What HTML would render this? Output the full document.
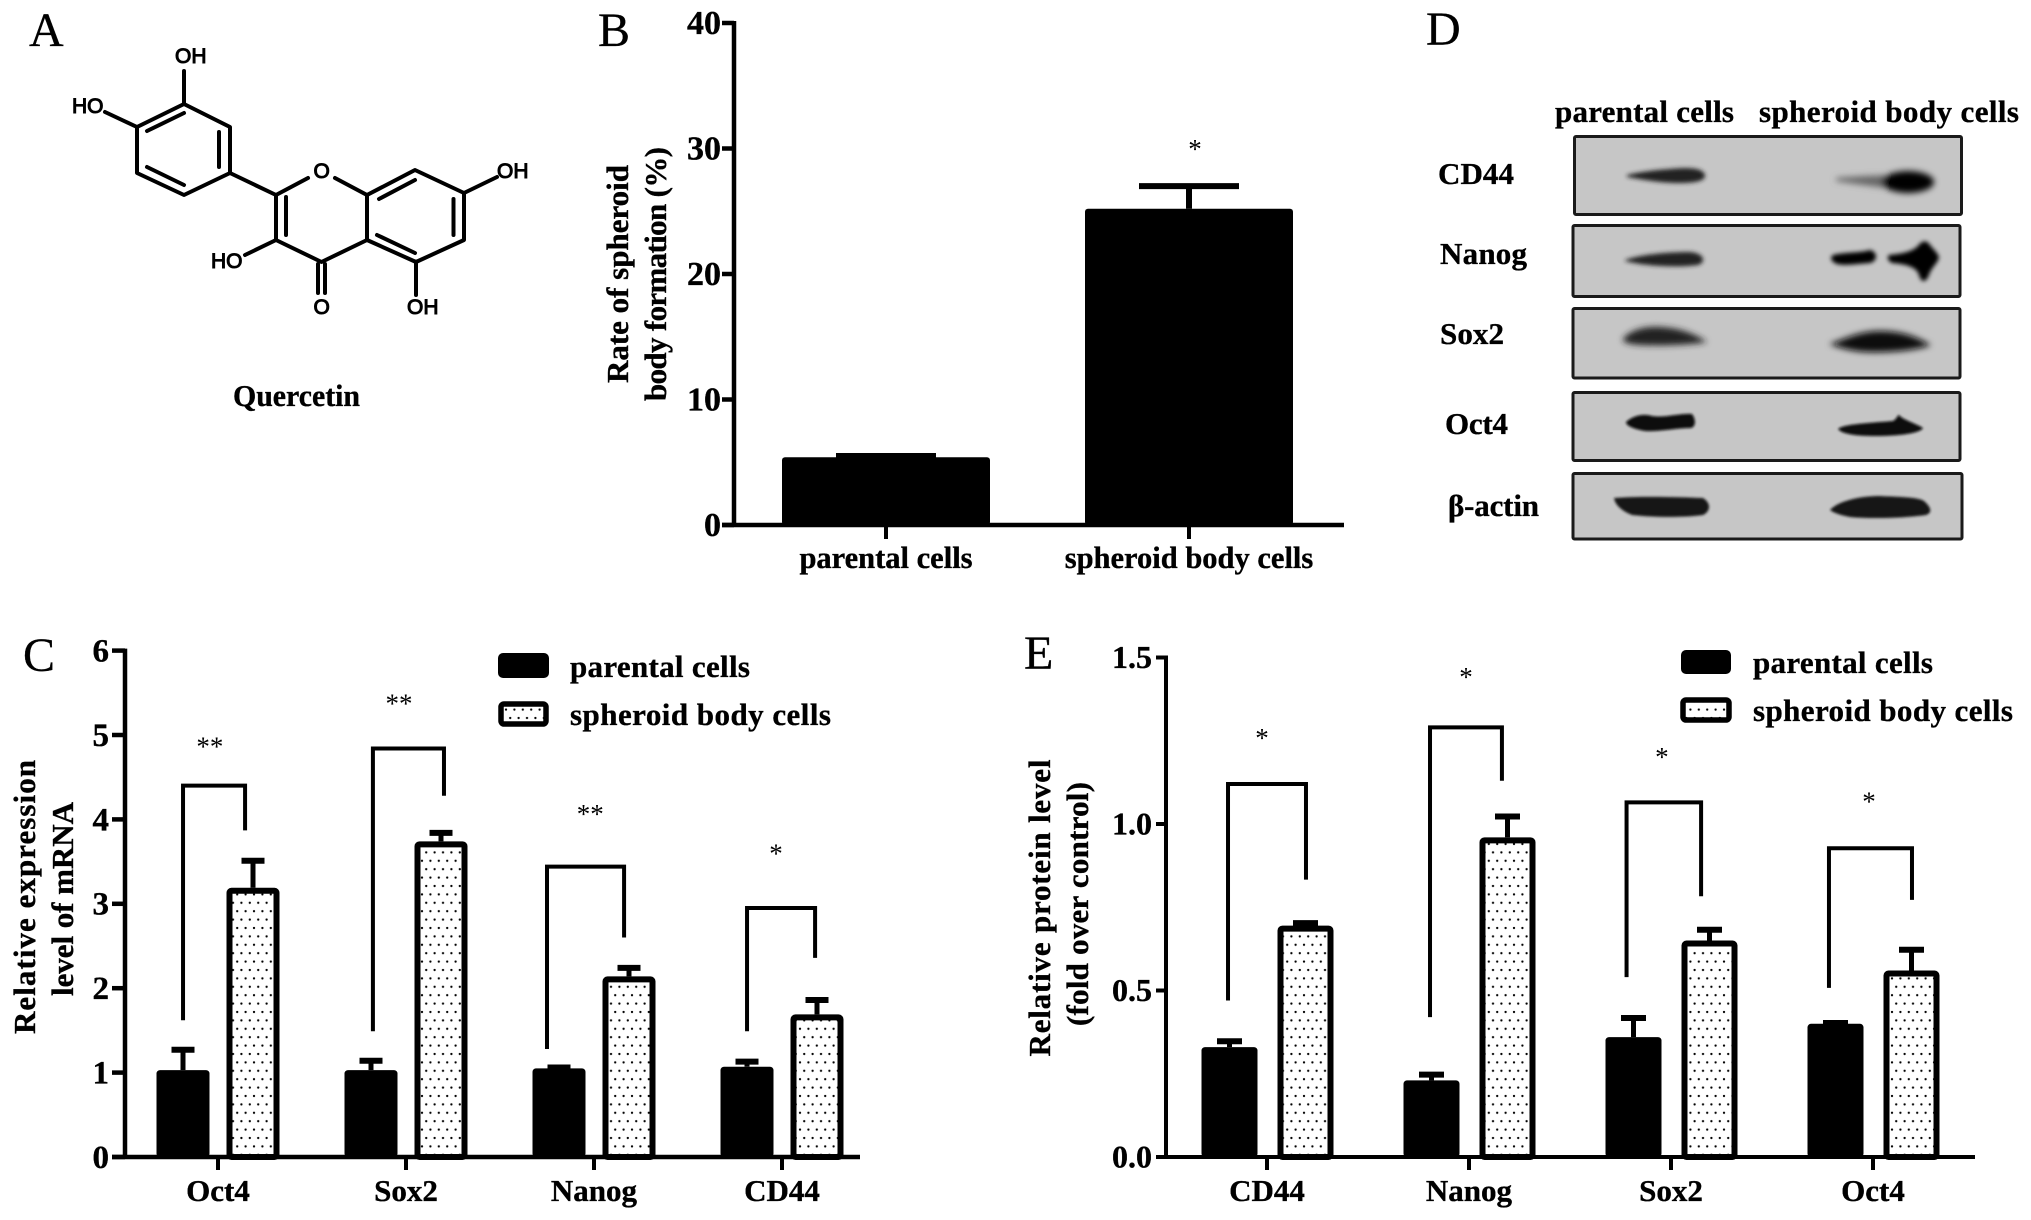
<!DOCTYPE html>
<html lang="en">
<head>
<meta charset="utf-8">
<title>Quercetin spheroid body figure</title>
<style>
html,body{margin:0;padding:0;background:#fff;}
svg{display:block;}
text{font-family:"Liberation Serif","DejaVu Serif",serif;fill:#000;}
.lab{font-weight:bold;font-size:31px;stroke:#000;stroke-width:.35px;}
.let{font-size:48px;stroke:#000;stroke-width:.3px;}
.chem{font-family:"Liberation Sans",sans-serif;font-size:21px;stroke:#000;stroke-width:1px;}
.bond{stroke:#000;stroke-width:4;fill:none;stroke-linecap:round;stroke-linejoin:round;}
.blot{fill:#c6c6c6;stroke:#1a1a1a;stroke-width:3;}
</style>
</head>
<body>
<svg id="fig" xmlns="http://www.w3.org/2000/svg" width="2031" height="1220" viewBox="0 0 2031 1220">
<defs>
<pattern id="dots" patternUnits="userSpaceOnUse" width="8.4" height="16.8">
<circle cx="2" cy="4" r="1.15" fill="#000"/>
<circle cx="6.2" cy="12.4" r="1.15" fill="#000"/>
</pattern>
<filter id="bl1" x="-20%" y="-40%" width="140%" height="180%"><feGaussianBlur stdDeviation="1.3"/></filter>
<filter id="bl2" x="-20%" y="-40%" width="140%" height="180%"><feGaussianBlur stdDeviation="2.2"/></filter>
<filter id="bl3" x="-20%" y="-60%" width="140%" height="220%"><feGaussianBlur stdDeviation="3.2"/></filter>
</defs>
<rect width="2031" height="1220" fill="#fff"/>

<text class="let" x="29" y="46">A</text>
<text class="let" x="598" y="46">B</text>
<text class="let" x="23" y="671">C</text>
<text class="let" x="1426" y="45">D</text>
<text class="let" x="1024" y="669">E</text>

<g>
<path class="bond" d="M184 104L230 127L230 173L184 195L137 173L137 127Z"/>
<path class="bond" d="M147 131L184 113M219 132L219 167M147 167L184 185M184 104L184 71M137 127L105 112M230 173L276 195"/>
<path class="bond" d="M308 178L276 195L276 240L321.5 262L367 240L367 195L335 178"/>
<path class="bond" d="M286 197L286 235M367 195L415 170L464 193L464 240L416 262L367 240"/>
<path class="bond" d="M379 199L415 180M453.5 199L453.5 235M377 235L415 253M464 193L497 177M416 262L416 295M318 264L318 293M325 264L325 293M276 240L245 255"/>
<text class="chem" x="175" y="63">OH</text>
<text class="chem" x="72" y="113">HO</text>
<text class="chem" x="313.500" y="178">O</text>
<text class="chem" x="497" y="178">OH</text>
<text class="chem" x="211" y="268">HO</text>
<text class="chem" x="313.500" y="314">O</text>
<text class="chem" x="407" y="314">OH</text>
</g>
<text class="lab" x="233" y="406" textLength="127" lengthAdjust="spacingAndGlyphs">Quercetin</text>

<g id="chartB"></g>
<text class="lab" transform="translate(628,274) rotate(-90)" text-anchor="middle" textLength="218" lengthAdjust="spacing">Rate of spheroid</text>
<text class="lab" transform="translate(666,274) rotate(-90)" text-anchor="middle" textLength="254" lengthAdjust="spacing">body formation (%)</text>

<g id="chartC"></g>
<text class="lab" transform="translate(35,897) rotate(-90)" text-anchor="middle" textLength="274" lengthAdjust="spacing">Relative expression</text>
<text class="lab" transform="translate(73,899) rotate(-90)" text-anchor="middle" textLength="194" lengthAdjust="spacing">level of mRNA</text>

<g id="chartE"></g>
<text class="lab" transform="translate(1050,908) rotate(-90)" text-anchor="middle" textLength="297" lengthAdjust="spacing">Relative protein level</text>
<text class="lab" transform="translate(1088,904) rotate(-90)" text-anchor="middle" textLength="244" lengthAdjust="spacing">(fold over control)</text>

<g>
<rect x="499" y="654" width="49" height="23" rx="4" fill="#000" stroke="#000" stroke-width="2"/>
<text class="lab" x="570" y="677" textLength="180" lengthAdjust="spacing">parental cells</text>
<rect x="501" y="704" width="45" height="20" rx="3" fill="url(#dots)" stroke="#000" stroke-width="5.5"/>
<text class="lab" x="570" y="725" textLength="261" lengthAdjust="spacing">spheroid body cells</text>
</g>
<g>
<rect x="1682" y="651" width="48" height="22" rx="4" fill="#000" stroke="#000" stroke-width="2"/>
<text class="lab" x="1753" y="673" textLength="180" lengthAdjust="spacing">parental cells</text>
<rect x="1683" y="700" width="46" height="20" rx="3" fill="url(#dots)" stroke="#000" stroke-width="5.5"/>
<text class="lab" x="1753" y="721" textLength="260" lengthAdjust="spacing">spheroid body cells</text>
</g>

<g>
<text class="lab" x="1555" y="122" textLength="179" lengthAdjust="spacing">parental cells</text>
<text class="lab" x="1759" y="122" textLength="260" lengthAdjust="spacing">spheroid body cells</text>

<text class="lab" x="1438" y="184" textLength="76" lengthAdjust="spacing">CD44</text>
<text class="lab" x="1440" y="264" textLength="87" lengthAdjust="spacing">Nanog</text>
<text class="lab" x="1440" y="344" textLength="64" lengthAdjust="spacing">Sox2</text>
<text class="lab" x="1445" y="434" textLength="63" lengthAdjust="spacing">Oct4</text>
<text class="lab" x="1448" y="516" textLength="91" lengthAdjust="spacing">β-actin</text>

<rect class="blot" x="1574.500" y="136.500" width="387" height="78" rx="1.500"/>
<rect class="blot" x="1573" y="225.500" width="387" height="71" rx="1.500"/>
<rect class="blot" x="1573" y="308.500" width="387" height="69.500" rx="1.500"/>
<rect class="blot" x="1573" y="392.500" width="387" height="68" rx="1.500"/>
<rect class="blot" x="1573" y="473.500" width="389" height="65.500" rx="1.500"/>

<g filter="url(#bl2)">
<path d="M1627 175C1640 172 1655 170 1670 169C1690 167 1703 168 1705 175C1706 181 1695 183 1680 183C1660 183 1645 180 1627 177Z" fill="#222"/>
<path d="M1625 260C1640 255 1665 252 1690 252C1704 253 1707 262 1698 265C1675 268 1645 266 1625 261Z" fill="#222"/>
<path d="M1833 255C1845 252 1860 253 1870 250C1878 252 1878 261 1870 263C1855 264 1845 266 1837 264C1830 261 1830 257 1833 255Z" fill="#000"/>
<path d="M1889 255C1900 254 1912 252 1918 246C1922 240 1927 240 1930 245C1934 250 1939 254 1939 258C1937 264 1931 268 1929 275C1926 283 1921 283 1919 275C1917 267 1905 264 1892 263C1887 260 1887 257 1889 255Z" fill="#000"/>
</g>
<g filter="url(#bl3)">
<path d="M1836 178C1860 176 1885 175 1905 175L1905 190C1885 188 1855 184 1836 181Z" fill="#666"/>
<ellipse cx="1908" cy="182" rx="26" ry="11" fill="#000"/>
<path d="M1623 339C1630 330 1645 326 1660 327C1680 328 1695 334 1707 342C1690 345 1660 346 1640 345C1628 344 1622 342 1623 339Z" fill="#222"/>
<path d="M1829 344C1843 340 1858 331 1880 331C1905 331 1918 338 1931 345C1915 351 1885 353 1865 352C1850 351 1838 347 1829 344Z" fill="#0a0a0a"/>
</g>
<g filter="url(#bl1)" fill="#0a0a0a">
<path d="M1626 422C1632 416 1643 413 1652 416C1665 418 1680 413 1692 414C1696 419 1696 427 1691 428C1675 428 1660 432 1645 431C1634 429 1626 426 1626 422Z"/>
<path d="M1838 429C1843 424 1870 423 1893 421C1897 419 1898 414 1899 415C1903 420 1915 423 1923 428C1921 433 1900 436 1875 436C1855 436 1842 434 1838 429Z"/>
<path d="M1614 498C1640 496 1680 497 1703 498C1711 503 1711 511 1703 515C1680 518 1650 517 1632 515C1622 511 1615 505 1614 498Z" fill="#151515"/>
<path d="M1830 510C1838 501 1860 496 1880 496C1900 497 1918 497 1924 501C1932 508 1932 513 1926 515C1905 518 1870 519 1850 517C1840 515 1834 513 1830 510Z" fill="#151515"/>
</g>
</g>

<script>
// Panel B data
const categoriesB = ["parental cells", "spheroid body cells"];
const meanB = [5.4, 25.2];
const errTopB = [5.7, 27.2];
const ticksB = [0, 10, 20, 30, 40];
const starLevelB = [null, 30.2];

// Panel C data
const categoriesC = ["Oct4", "Sox2", "Nanog", "CD44"];
const parentalC = [1.03, 1.03, 1.05, 1.07];
const parentalErrTopC = [1.3, 1.17, 1.09, 1.16];
const spheroidC = [3.19, 3.74, 2.14, 1.69];
const spheroidErrTopC = [3.54, 3.87, 2.27, 1.89];
const ticksC = [0, 1, 2, 3, 4, 5, 6];
const bracketTopC = [4.4, 4.84, 3.44, 2.95];
const bracketLeftEndC = [1.62, 1.49, 1.28, 1.49];
const bracketRightEndC = [3.87, 4.28, 2.6, 2.36];
const bracketLeftCatC = [-0.186, -0.176, -0.25, -0.186];
const bracketRightCatC = [0.144, 0.202, 0.16, 0.176];
const starLabelC = ["**", "**", "**", "*"];
const starLevelC = [4.9, 5.41, 4.1, 3.63];
const starCatC = [-0.043, -0.037, -0.02, -0.032];

// Panel E data
const categoriesE = ["CD44", "Nanog", "Sox2", "Oct4"];
const parentalE = [0.33, 0.23, 0.36, 0.4];
const parentalErrTopE = [0.355, 0.255, 0.425, 0.41];
const spheroidE = [0.695, 0.96, 0.65, 0.56];
const spheroidErrTopE = [0.71, 1.03, 0.69, 0.63];
const ticksE = ["0.0", "0.5", "1.0", "1.5"];
const bracketTopE = [1.12, 1.29, 1.065, 0.927];
const bracketLeftEndE = [0.47, 0.42, 0.54, 0.508];
const bracketRightEndE = [0.833, 1.13, 0.783, 0.772];
const bracketLeftCatE = [-0.193, -0.193, -0.22, -0.218];
const bracketRightCatE = [0.193, 0.163, 0.149, 0.193];
const starLabelE = ["*", "*", "*", "*"];
const starLevelE = [1.267, 1.45, 1.21, 1.076];
const starCatE = [-0.025, -0.015, -0.045, -0.02];

const NS = "http://www.w3.org/2000/svg";
function mk(parent, tag, attrs, name) {
  const el = document.createElementNS(NS, tag);
  for (const k in attrs) { el.setAttribute(k, attrs[k]); }
  
  
  parent.appendChild(el);
  return el;
}
function line(g, x1, y1, x2, y2, w, name) {
  return mk(g, "line", {x1: x1, y1: y1, x2: x2, y2: y2, stroke: "#000", "stroke-width": w}, name);
}
function label(g, x, y, str, size, anchor, bold, name, spacing) {
  const t = mk(g, "text", {x: x, y: y, "font-size": size, "text-anchor": anchor, "font-weight": bold ? "bold" : "normal", "letter-spacing": spacing || 0, stroke: "#000", "stroke-width": bold ? 0.35 : 0}, name);
  t.textContent = str;
  return t;
}
function drawAxes(g, o, ticks, cats, xOf, yOf, key) {
  line(g, o.axisX, yOf(+ticks[ticks.length - 1]) - 2, o.axisX, o.y0 + 2, o.axisW, "y-axis-" + key);
  line(g, o.tickL, o.y0, o.xEnd, o.y0, o.axisW, "x-axis-" + key);
  ticks.forEach(function (t) {
    const y = yOf(+t);
    line(g, o.tickL, y, o.axisX, y, o.axisW, "y-tick-" + key + "-" + t);
    label(g, o.labelEnd, y + o.tickSize * 0.33, String(t), o.tickSize, "end", true, "y-tick-label-" + key + "-" + t);
  });
  cats.forEach(function (c, i) {
    const x = xOf(i);
    line(g, x, o.y0, x, o.y0 + o.tickDown, 4, "x-tick-" + key + "-" + c);
    label(g, x, o.xLabelY, c, o.xLabelSize, "middle", true, "x-tick-label-" + key + "-" + c, o.xLabelSpacing);
  });
}
function errorBar(g, x, yFrom, yTo, capW, w, name) {
  line(g, x, yFrom, x, yTo, w, name + "-stem");
  line(g, x - capW / 2, yTo + 2.5, x + capW / 2, yTo + 2.5, 6, name + "-cap");
}
function grouped(g, o, cats, parental, parErr, spheroid, sphErr, ticks, bTop, bLeft, bRight, bLeftCat, bRightCat, stars, starLevel, starCat, key) {
  const xOf = function (u) { return o.x0 + u * o.step; };
  const yOf = function (v) { return o.y0 - v * o.yUnit; };
  cats.forEach(function (c, i) {
    const px = xOf(i) + o.parOffset;
    const sx = xOf(i) + o.sphOffset;
    errorBar(g, px, yOf(parental[i]), yOf(parErr[i]), o.capW, 5, "error-parental-" + key + "-" + c);
    errorBar(g, sx, yOf(spheroid[i]), yOf(sphErr[i]), o.capW, 5, "error-spheroid-" + key + "-" + c);
    mk(g, "rect", {x: px - o.barW / 2, y: yOf(parental[i]), width: o.barW, height: o.y0 - yOf(parental[i]), rx: 3.5, fill: "#000"}, "bar-parental-" + key + "-" + c);
    const inset = o.border / 2;
    mk(g, "rect", {x: sx - o.barW / 2 + inset, y: yOf(spheroid[i]) + inset, width: o.barW - o.border, height: o.y0 - yOf(spheroid[i]) - inset, fill: "#fff", stroke: "none"}, "bar-spheroid-fill-" + key + "-" + c);
    mk(g, "rect", {x: sx - o.barW / 2 + inset, y: yOf(spheroid[i]) + inset, width: o.barW - o.border, height: o.y0 - yOf(spheroid[i]) - inset, rx: 2, fill: "url(#dots)", stroke: "#000", "stroke-width": o.border}, "bar-spheroid-" + key + "-" + c);

    const lx = xOf(i + bLeftCat[i]);
    const rx = xOf(i + bRightCat[i]);
    mk(g, "path", {d: "M" + lx + " " + yOf(bLeft[i]) + "L" + lx + " " + yOf(bTop[i]) + "L" + rx + " " + yOf(bTop[i]) + "L" + rx + " " + yOf(bRight[i]), fill: "none", stroke: "#000", "stroke-width": 4}, "significance-bracket-" + key + "-" + c);
    label(g, xOf(i + starCat[i]), yOf(starLevel[i]) + 12, stars[i], 27, "middle", false, "significance-star-" + key + "-" + c);
  });
  drawAxes(g, o, ticks, cats, xOf, yOf, key);
}

// Panel B
(function () {
  const g = document.getElementById("chartB");
  const o = {axisX: 734, axisW: 4.5, tickL: 722, xEnd: 1344, y0: 525, labelEnd: 721, tickSize: 34, tickDown: 14, xLabelY: 568, xLabelSize: 30.5, xLabelSpacing: 0};
  const x0 = 886, step = 303, yUnit = 12.55, barW = 208, capW = 100;
  const xOf = function (i) { return x0 + i * step; };
  const yOf = function (v) { return o.y0 - v * yUnit; };
  categoriesB.forEach(function (c, i) {
    const x = xOf(i);
    errorBar(g, x, yOf(meanB[i]), yOf(errTopB[i]), capW, 6, "error-" + c.replace(/ /g, "-"));
    mk(g, "rect", {x: x - barW / 2, y: yOf(meanB[i]), width: barW, height: o.y0 - yOf(meanB[i]), rx: 3, fill: "#000"}, "bar-" + c.replace(/ /g, "-"));
    if (starLevelB[i] !== null) {
      label(g, x + 6, yOf(starLevelB[i]) + 12, "*", 27, "middle", false, "significance-star-b");
    }
  });
  drawAxes(g, o, ticksB, categoriesB, xOf, yOf, "b");
})();

// Panel C
grouped(document.getElementById("chartC"),
  {x0: 218, step: 188, y0: 1157, yUnit: 84.4, parOffset: -35, sphOffset: 35, barW: 53, border: 6, capW: 23,
   axisX: 125, axisW: 4.5, tickL: 112, xEnd: 860, labelEnd: 109, tickSize: 33, tickDown: 13, xLabelY: 1201, xLabelSize: 31, xLabelSpacing: 0},
  categoriesC, parentalC, parentalErrTopC, spheroidC, spheroidErrTopC, ticksC,
  bracketTopC, bracketLeftEndC, bracketRightEndC, bracketLeftCatC, bracketRightCatC,
  starLabelC, starLevelC, starCatC, "c");

// Panel E
grouped(document.getElementById("chartE"),
  {x0: 1267, step: 202, y0: 1157, yUnit: 333, parOffset: -37.5, sphOffset: 38.5, barW: 56, border: 6, capW: 25,
   axisX: 1166, axisW: 4, tickL: 1156, xEnd: 1975, labelEnd: 1152, tickSize: 32, tickDown: 13, xLabelY: 1201, xLabelSize: 31, xLabelSpacing: 0},
  categoriesE, parentalE, parentalErrTopE, spheroidE, spheroidErrTopE, ticksE,
  bracketTopE, bracketLeftEndE, bracketRightEndE, bracketLeftCatE, bracketRightCatE,
  starLabelE, starLevelE, starCatE, "e");
</script>
</svg>
</body>
</html>
